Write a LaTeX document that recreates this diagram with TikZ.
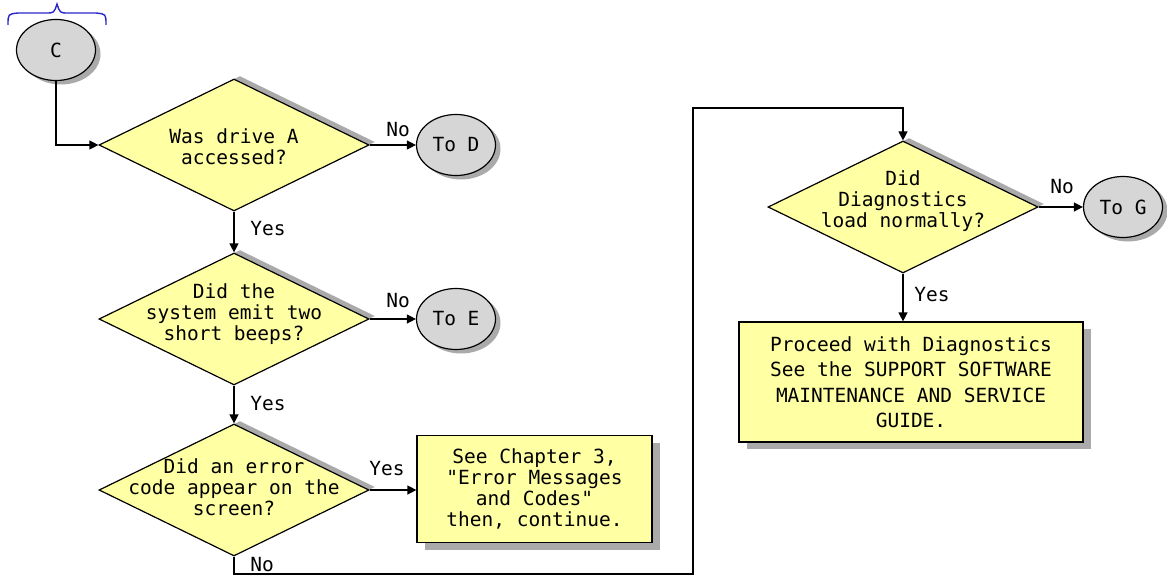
\documentclass[tikz,border=0pt]{standalone}
\usepackage{fontspec}
\newfontfamily\pixfont{DejaVu Sans Mono}
\usetikzlibrary{shapes.geometric,arrows.meta,shadows}
\definecolor{dyell}{RGB}{255,255,163}
\definecolor{dgray}{RGB}{214,214,214}
\definecolor{shad}{RGB}{170,170,170}
\definecolor{bracec}{RGB}{40,40,200}
\begin{document}
\begin{tikzpicture}[x=1pt,y=-1pt,
  font=\pixfont\fontsize{19.5}{21}\selectfont,
  dec/.style={diamond, draw, line width=1.2pt, fill=dyell, minimum width=270pt, minimum height=132pt, inner sep=0pt,
    drop shadow={shadow xshift=6pt, shadow yshift=3pt, fill=shad, opacity=1}},
  term/.style={ellipse, draw, line width=1.2pt, fill=dgray, minimum width=79pt, minimum height=61pt, inner sep=0pt,
    drop shadow={shadow xshift=5pt, shadow yshift=-4pt, fill=shad, opacity=1}},
  procbox/.style={rectangle, draw, line width=1.2pt, fill=dyell, inner sep=0pt, align=center,
    drop shadow={shadow xshift=8pt, shadow yshift=-7pt, fill=shad, opacity=1}},
  txt/.style={align=center, inner sep=0pt},
  lbl/.style={inner sep=0pt},
  arr/.style={line width=1.3pt, -{Triangle[length=9pt,width=9pt]}},
  ln/.style={line width=1.3pt}]
\useasboundingbox (0,0) rectangle (1167,575);

% brace
\draw[bracec, line width=1.4pt] (8,25) .. controls (8,14) .. (18,13) -- (46,13) .. controls (54,13) .. (57,4)
  .. controls (60,13) .. (68,13) -- (96,13) .. controls (106,14) .. (106,25);

% nodes
\node[term] (C) at (56,50) {C};
\node[dec] (d1) at (234,145) {};
\node[txt] (t1) at ([yshift=-2pt]d1.center) {Was drive A\\accessed?};
\node[term] (tD) at (456,145) {To D};

\node[dec] (d2) at (234,319) {};
\node[txt] (t2) at ([yshift=5pt]d2.center) {Did the\\system emit two\\short beeps?};
\node[term] (tE) at (456,319) {To E};

\node[dec] (d3) at (234,490) {};
\node[txt] (t3) at ([yshift=3pt]d3.center) {Did an error\\code appear on the\\screen?};
\node[procbox, minimum width=235pt, minimum height=107pt] (b1) at (534.5,489) {See Chapter 3,\\"Error Messages\\and Codes"\\then, continue.};

\node[dec] (d4) at (903,207) {};
\node[txt] (t4) at ([yshift=6pt]d4.center) {Did\\Diagnostics\\load normally?};
\node[term] (tG) at (1123,207) {To G};
\node[procbox, minimum width=344pt, minimum height=120pt, font=\pixfont\fontsize{19.5}{25.5}\selectfont] (b2) at (911,382)
  {Proceed with Diagnostics\\See the SUPPORT SOFTWARE\\MAINTENANCE AND SERVICE\\GUIDE.};

% labels
\node[lbl] (n1) at (398,130) {No};
\node[lbl] (y1) at (268,229) {Yes};
\node[lbl] (n2) at (398,301) {No};
\node[lbl] (y2) at (268,404) {Yes};
\node[lbl] (y3) at (387,469) {Yes};
\node[lbl] (n3) at (262,565) {No};
\node[lbl] (n4) at (1062,187) {No};
\node[lbl] (y4) at (932,295) {Yes};

% connectors
\draw[arr] (C.south) |- (d1.west);
\draw[arr] (d1.east) -- (d1.east -| tD.west);
\draw[arr] (d1.south) -- (d2.north);
\draw[arr] (d2.east) -- (d2.east -| tE.west);
\draw[arr] (d2.south) -- (d3.north);
\draw[arr] (d3.east) -- (d3.east -| b1.west);
\coordinate (p1) at (234,574);
\coordinate (p2) at (693,574);
\coordinate (p3) at (693,108);
\draw[arr] (d3.south) -- (p1) -- (p2) -- (p3) -| (d4.north);
\draw[arr] (d4.east) -- (d4.east -| tG.west);
\draw[arr] (d4.south) -- (d4.south |- b2.north);
\end{tikzpicture}
\end{document}
